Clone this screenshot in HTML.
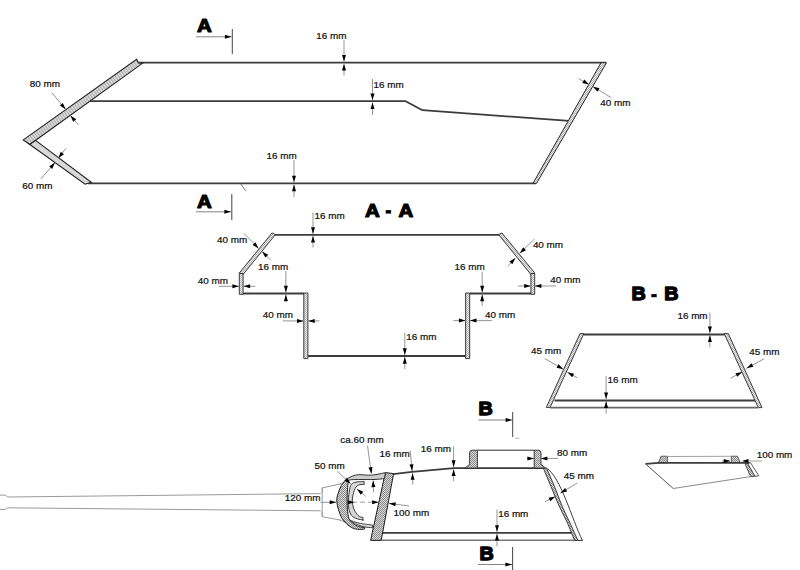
<!DOCTYPE html>
<html><head><meta charset="utf-8"><style>
html,body{margin:0;padding:0;background:#fff;}
svg{display:block;}
text{font-family:"Liberation Sans",sans-serif;fill:#111;stroke:#111;stroke-width:0.22px;}
text.b{font-weight:bold;fill:#000;stroke:#000;stroke-width:1.5px;stroke-linejoin:round;}
</style></head><body>
<svg width="800" height="570" viewBox="0 0 800 570">
<defs><pattern id="chk" width="2" height="2" patternUnits="userSpaceOnUse"><rect width="2" height="2" fill="#dadada"/><rect width="1" height="1" fill="#8a8a8a"/><rect x="1" y="1" width="1" height="1" fill="#8a8a8a"/></pattern><pattern id="chk2" width="2" height="2" patternUnits="userSpaceOnUse"><rect width="2" height="2" fill="#eeeeee"/><rect width="1" height="1" fill="#b0b0b0"/><rect x="1" y="1" width="1" height="1" fill="#b0b0b0"/></pattern><pattern id="str" width="2.6" height="4" patternUnits="userSpaceOnUse" patternTransform="rotate(-35.4)"><rect width="2.6" height="4" fill="#dcdcdc"/><rect width="1" height="4" fill="#a8a8a8"/></pattern></defs>
<rect width="800" height="570" fill="#fff"/>
<text class="b" transform="translate(197.07,31.97) scale(1.1,1)" x="0" y="0" font-size="18.6" style="stroke-width:1.15px">A</text>
<line x1="196" y1="36.8" x2="231.5" y2="36.8" stroke="#777" stroke-width="0.9" />
<polygon points="231.50,36.80 224.90,38.80 224.90,34.80" fill="#000"/>
<line x1="232.3" y1="29" x2="232.3" y2="54" stroke="#444" stroke-width="1" />
<text class="b" transform="translate(197.07,207.77) scale(1.1,1)" x="0" y="0" font-size="18.6" style="stroke-width:1.15px">A</text>
<line x1="196" y1="211.8" x2="231" y2="211.8" stroke="#777" stroke-width="0.9" />
<polygon points="231.00,211.80 224.40,213.80 224.40,209.80" fill="#000"/>
<line x1="231.8" y1="194" x2="231.8" y2="220" stroke="#444" stroke-width="1" />
<line x1="139" y1="62.7" x2="606" y2="62.7" stroke="#3c3c3c" stroke-width="1.8" />
<polyline points="89.6,101.2 405.6,101.2 422.5,110.2 569,120.8" stroke="#3c3c3c" stroke-width="1.8" fill="none" stroke-linejoin="round" />
<line x1="88" y1="183.4" x2="536" y2="183.4" stroke="#3c3c3c" stroke-width="1.8" />
<line x1="240.4" y1="183.4" x2="245.6" y2="190.8" stroke="#555" stroke-width="0.8" />
<polygon points="23.3,139.9 136.6,59.3 138.5,62.9 142.8,63.1 29.8,144.5" fill="url(#str)" stroke="#1e1e1e" stroke-width="1.1" stroke-linejoin="miter" />
<polygon points="29.8,144.5 35.5,140.4 91.3,182.4 85.1,184.2" fill="#d8d8d8" stroke="#1e1e1e" stroke-width="1.1" stroke-linejoin="miter" />
<polygon points="601,62.7 606.5,62.7 536.5,183.4 533,183.4" fill="url(#chk2)" stroke="#2a2a2a" stroke-width="1" stroke-linejoin="miter" />
<text x="29.68" y="86.81" font-size="9.9">80 mm</text>
<line x1="51.7" y1="92.6" x2="65.6" y2="109.3" stroke="#959595" stroke-width="1" />
<polygon points="65.60,109.30 59.84,105.51 62.91,102.95" fill="#000"/>
<line x1="78.3" y1="124.8" x2="70.4" y2="115.5" stroke="#959595" stroke-width="1" />
<polygon points="70.40,115.50 76.20,119.24 73.15,121.82" fill="#000"/>
<text x="22.32" y="188.93" font-size="9.9">60 mm</text>
<line x1="40.8" y1="179" x2="55" y2="162.6" stroke="#959595" stroke-width="1" />
<polygon points="55.00,162.60 52.19,168.90 49.17,166.28" fill="#000"/>
<line x1="66" y1="148.3" x2="58.3" y2="158.2" stroke="#959595" stroke-width="1" />
<polygon points="58.30,158.20 60.77,151.76 63.93,154.22" fill="#000"/>
<text x="316.20" y="38.68" font-size="9.9">16 mm</text>
<line x1="344" y1="40" x2="344" y2="61.6" stroke="#959595" stroke-width="1" />
<polygon points="344.00,61.60 342.00,55.00 346.00,55.00" fill="#000"/>
<line x1="344" y1="75.5" x2="344" y2="63.9" stroke="#959595" stroke-width="1" />
<polygon points="344.00,63.90 346.00,70.50 342.00,70.50" fill="#000"/>
<text x="373.57" y="87.56" font-size="9.9">16 mm</text>
<line x1="372.5" y1="79" x2="372.5" y2="100.1" stroke="#959595" stroke-width="1" />
<polygon points="372.50,100.10 370.50,93.50 374.50,93.50" fill="#000"/>
<line x1="372.5" y1="115" x2="372.5" y2="102.4" stroke="#959595" stroke-width="1" />
<polygon points="372.50,102.40 374.50,109.00 370.50,109.00" fill="#000"/>
<text x="600.21" y="105.93" font-size="9.9">40 mm</text>
<line x1="578.5" y1="78.5" x2="589" y2="84.6" stroke="#959595" stroke-width="1" />
<polygon points="589.00,84.60 582.29,83.01 584.30,79.56" fill="#000"/>
<line x1="611.3" y1="97.6" x2="592.8" y2="86.6" stroke="#959595" stroke-width="1" />
<polygon points="592.80,86.60 599.50,88.25 597.45,91.69" fill="#000"/>
<text x="266.62" y="159.16" font-size="9.9">16 mm</text>
<line x1="294" y1="160" x2="294" y2="182.3" stroke="#959595" stroke-width="1" />
<polygon points="294.00,182.30 292.00,175.70 296.00,175.70" fill="#000"/>
<line x1="294" y1="197" x2="294" y2="184.6" stroke="#959595" stroke-width="1" />
<polygon points="294.00,184.60 296.00,191.20 292.00,191.20" fill="#000"/>
<text class="b" transform="translate(364.88,216.67) scale(1.1,1)" x="0" y="0" font-size="18.6" style="stroke-width:1.15px">A</text>
<rect x="385.7" y="210.1" width="5.4" height="3.5" fill="#000"/>
<text class="b" transform="translate(398.38,216.67) scale(1.1,1)" x="0" y="0" font-size="18.6" style="stroke-width:1.15px">A</text>
<line x1="274.5" y1="234.9" x2="500" y2="234.9" stroke="#3c3c3c" stroke-width="1.8" />
<polygon points="272.1,232.9 275.4,234.6 242.7,275 239.1,273.2" fill="url(#chk2)" stroke="#2a2a2a" stroke-width="0.9" stroke-linejoin="miter" />
<polygon points="501.9,232.9 498.6,234.6 531.3,275 534.9,273.2" fill="url(#chk2)" stroke="#2a2a2a" stroke-width="0.9" stroke-linejoin="miter" />
<polygon points="239.3,273.5 243.1,273.5 243.1,294.3 239.3,294.3" fill="url(#chk2)" stroke="#2a2a2a" stroke-width="0.9" stroke-linejoin="miter" />
<polygon points="534.7,273.5 530.9,273.5 530.9,294.3 534.7,294.3" fill="url(#chk2)" stroke="#2a2a2a" stroke-width="0.9" stroke-linejoin="miter" />
<line x1="243" y1="293.5" x2="304" y2="293.5" stroke="#3c3c3c" stroke-width="1.8" />
<line x1="470" y1="293.5" x2="531" y2="293.5" stroke="#3c3c3c" stroke-width="1.8" />
<polygon points="303.8,293 307.9,293 307.9,358.6 303.8,358.6" fill="url(#chk2)" stroke="#2a2a2a" stroke-width="0.9" stroke-linejoin="miter" />
<polygon points="465.6,293 469.7,293 469.7,358.6 465.6,358.6" fill="url(#chk2)" stroke="#2a2a2a" stroke-width="0.9" stroke-linejoin="miter" />
<line x1="308" y1="356" x2="465.5" y2="356" stroke="#3c3c3c" stroke-width="1.8" />
<text x="314.57" y="219.06" font-size="9.9">16 mm</text>
<line x1="313" y1="212.5" x2="313" y2="233.8" stroke="#959595" stroke-width="1" />
<polygon points="313.00,233.80 311.00,227.20 315.00,227.20" fill="#000"/>
<line x1="313" y1="247.5" x2="313" y2="236" stroke="#959595" stroke-width="1" />
<polygon points="313.00,236.00 315.00,242.60 311.00,242.60" fill="#000"/>
<text x="217.08" y="242.56" font-size="9.9">40 mm</text>
<line x1="243.9" y1="233.3" x2="258.6" y2="248.4" stroke="#959595" stroke-width="1" />
<polygon points="258.60,248.40 252.56,245.07 255.43,242.28" fill="#000"/>
<line x1="270.9" y1="260.3" x2="262.1" y2="251.5" stroke="#959595" stroke-width="1" />
<polygon points="262.10,251.50 268.18,254.75 265.35,257.58" fill="#000"/>
<text x="258.12" y="269.51" font-size="9.9">16 mm</text>
<line x1="285.9" y1="271" x2="285.9" y2="292.4" stroke="#959595" stroke-width="1" />
<polygon points="285.90,292.40 283.90,285.80 287.90,285.80" fill="#000"/>
<line x1="285.9" y1="300" x2="285.9" y2="294.6" stroke="#959595" stroke-width="1" />
<polygon points="285.90,294.60 287.90,301.20 283.90,301.20" fill="#000"/>
<text x="197.83" y="283.68" font-size="9.9">40 mm</text>
<line x1="218.7" y1="286.3" x2="239" y2="286.3" stroke="#959595" stroke-width="1" />
<polygon points="239.00,286.30 232.40,288.30 232.40,284.30" fill="#000"/>
<line x1="255.4" y1="286.3" x2="243.5" y2="286.3" stroke="#959595" stroke-width="1" />
<polygon points="243.50,286.30 250.10,284.30 250.10,288.30" fill="#000"/>
<text x="262.73" y="318.16" font-size="9.9">40 mm</text>
<line x1="282.6" y1="320.9" x2="303.6" y2="320.9" stroke="#959595" stroke-width="1" />
<polygon points="303.60,320.90 297.00,322.90 297.00,318.90" fill="#000"/>
<line x1="319.5" y1="320.9" x2="308.1" y2="320.9" stroke="#959595" stroke-width="1" />
<polygon points="308.10,320.90 314.70,318.90 314.70,322.90" fill="#000"/>
<text x="406.32" y="339.76" font-size="9.9">16 mm</text>
<line x1="404.8" y1="333" x2="404.8" y2="354.9" stroke="#959595" stroke-width="1" />
<polygon points="404.80,354.90 402.80,348.30 406.80,348.30" fill="#000"/>
<line x1="404.8" y1="369" x2="404.8" y2="357.1" stroke="#959595" stroke-width="1" />
<polygon points="404.80,357.10 406.80,363.70 402.80,363.70" fill="#000"/>
<text x="485.08" y="317.56" font-size="9.9">40 mm</text>
<line x1="453.5" y1="320.6" x2="465.5" y2="320.6" stroke="#959595" stroke-width="1" />
<polygon points="465.50,320.60 458.90,322.60 458.90,318.60" fill="#000"/>
<line x1="491.8" y1="320.6" x2="469.9" y2="320.6" stroke="#959595" stroke-width="1" />
<polygon points="469.90,320.60 476.50,318.60 476.50,322.60" fill="#000"/>
<text x="454.62" y="269.93" font-size="9.9">16 mm</text>
<line x1="482.2" y1="271.6" x2="482.2" y2="292.4" stroke="#959595" stroke-width="1" />
<polygon points="482.20,292.40 480.20,285.80 484.20,285.80" fill="#000"/>
<line x1="482.2" y1="306" x2="482.2" y2="294.6" stroke="#959595" stroke-width="1" />
<polygon points="482.20,294.60 484.20,301.20 480.20,301.20" fill="#000"/>
<text x="532.88" y="247.86" font-size="9.9">40 mm</text>
<line x1="534.5" y1="239" x2="519.8" y2="253.3" stroke="#959595" stroke-width="1" />
<polygon points="519.80,253.30 523.14,247.26 525.93,250.13" fill="#000"/>
<line x1="507.7" y1="266.2" x2="515.4" y2="258" stroke="#959595" stroke-width="1" />
<polygon points="515.40,258.00 512.34,264.18 509.42,261.44" fill="#000"/>
<text x="550.33" y="283.06" font-size="9.9">40 mm</text>
<line x1="517.8" y1="286" x2="530.8" y2="286" stroke="#959595" stroke-width="1" />
<polygon points="530.80,286.00 524.20,288.00 524.20,284.00" fill="#000"/>
<line x1="556" y1="286" x2="534.8" y2="286" stroke="#959595" stroke-width="1" />
<polygon points="534.80,286.00 541.40,284.00 541.40,288.00" fill="#000"/>
<text class="b" transform="translate(631.47,300.13) scale(1.07,1)" x="0" y="0" font-size="18.4" style="stroke-width:1.35px">B</text>
<rect x="651.3" y="294.1" width="5.4" height="3.1" fill="#000"/>
<text class="b" transform="translate(664.27,300.13) scale(1.07,1)" x="0" y="0" font-size="18.4" style="stroke-width:1.35px">B</text>
<line x1="583.5" y1="334.5" x2="724.5" y2="334.5" stroke="#3c3c3c" stroke-width="2" />
<polygon points="580,333.6 583.9,333.6 550.1,407.4 546.3,407.4" fill="url(#chk2)" stroke="#2a2a2a" stroke-width="0.9" stroke-linejoin="miter" />
<polygon points="724.2,333.6 728.3,333.6 762,407.6 758.3,407.6" fill="url(#chk2)" stroke="#2a2a2a" stroke-width="0.9" stroke-linejoin="miter" />
<line x1="554.5" y1="400.5" x2="755" y2="400.5" stroke="#3c3c3c" stroke-width="2" />
<line x1="550" y1="407.7" x2="758.5" y2="407.7" stroke="#666" stroke-width="1.7" />
<text x="677.42" y="319.06" font-size="9.9">16 mm</text>
<line x1="709.9" y1="312.6" x2="709.9" y2="333.1" stroke="#959595" stroke-width="1" />
<polygon points="709.90,333.10 707.90,326.50 711.90,326.50" fill="#000"/>
<line x1="709.9" y1="347.3" x2="709.9" y2="335.3" stroke="#959595" stroke-width="1" />
<polygon points="709.90,335.30 711.90,341.90 707.90,341.90" fill="#000"/>
<text x="531.08" y="354.41" font-size="9.9">45 mm</text>
<line x1="544.7" y1="358.5" x2="563.3" y2="369.2" stroke="#959595" stroke-width="1" />
<polygon points="563.30,369.20 556.58,367.64 558.58,364.18" fill="#000"/>
<line x1="577.3" y1="377.8" x2="567.4" y2="372.3" stroke="#959595" stroke-width="1" />
<polygon points="567.40,372.30 574.14,373.76 572.20,377.25" fill="#000"/>
<text x="607.57" y="383.21" font-size="9.9">16 mm</text>
<line x1="606.1" y1="376" x2="606.1" y2="399.1" stroke="#959595" stroke-width="1" />
<polygon points="606.10,399.10 604.10,392.50 608.10,392.50" fill="#000"/>
<line x1="606.1" y1="413.6" x2="606.1" y2="401.3" stroke="#959595" stroke-width="1" />
<polygon points="606.10,401.30 608.10,407.90 604.10,407.90" fill="#000"/>
<text x="749.18" y="354.61" font-size="9.9">45 mm</text>
<line x1="764.1" y1="358.9" x2="746.6" y2="368.2" stroke="#959595" stroke-width="1" />
<polygon points="746.60,368.20 751.49,363.34 753.37,366.87" fill="#000"/>
<line x1="730.5" y1="378.2" x2="742.2" y2="372" stroke="#959595" stroke-width="1" />
<polygon points="742.20,372.00 737.30,376.86 735.43,373.32" fill="#000"/>
<text class="b" transform="translate(478.48,414.63) scale(1.07,1)" x="0" y="0" font-size="18.4" style="stroke-width:1.35px">B</text>
<line x1="478.4" y1="420" x2="512.2" y2="420" stroke="#777" stroke-width="0.9" />
<polygon points="512.20,420.00 505.60,422.00 505.60,418.00" fill="#000"/>
<line x1="512.7" y1="412" x2="512.7" y2="437" stroke="#444" stroke-width="1" />
<line x1="515.5" y1="438.2" x2="519.5" y2="438.2" stroke="#777" stroke-width="0.6" />
<text class="b" transform="translate(479.48,559.63) scale(1.07,1)" x="0" y="0" font-size="18.4" style="stroke-width:1.35px">B</text>
<line x1="478" y1="564.5" x2="512" y2="564.5" stroke="#777" stroke-width="0.9" />
<polygon points="512.00,564.50 505.40,566.50 505.40,562.50" fill="#000"/>
<line x1="512.6" y1="547" x2="512.6" y2="570" stroke="#444" stroke-width="1" />
<polyline points="0,495.1 5.3,495.1 7.8,497 320.8,493.6" stroke="#9a9a9a" stroke-width="1" fill="none" stroke-linejoin="round" />
<polyline points="0,509.4 5.3,509.4 7.8,507.8 320.8,510.8" stroke="#9a9a9a" stroke-width="1" fill="none" stroke-linejoin="round" />
<polyline points="322.2,492.5 322.2,487.9 341,483.8" stroke="#9a9a9a" stroke-width="1" fill="none" stroke-linejoin="round" />
<polyline points="322.2,511.5 322.2,516.7 341,520.2" stroke="#9a9a9a" stroke-width="1" fill="none" stroke-linejoin="round" />
<line x1="322.2" y1="487.9" x2="322.2" y2="516.7" stroke="#9a9a9a" stroke-width="1" />
<line x1="339.5" y1="484" x2="347" y2="481.5" stroke="#9a9a9a" stroke-width="1" />
<line x1="339.5" y1="520" x2="350" y2="524" stroke="#9a9a9a" stroke-width="1" />
<line x1="380.5" y1="532.9" x2="574" y2="532.9" stroke="#3c3c3c" stroke-width="1.8" />
<line x1="381" y1="540.3" x2="582.6" y2="540.3" stroke="#777" stroke-width="1.6" />
<polyline points="393,474.2 412,471.8 454,468.1 543.5,468.1" stroke="#3c3c3c" stroke-width="1.8" fill="none" stroke-linejoin="round" />
<path d="M465,468.1 L469.6,464.4 L469.6,452.6 Q469.8,450.2 472.2,450.2 L477.4,450.2 L477.4,468.1 Z" fill="url(#chk)" stroke="#2a2a2a" stroke-width="0.9"/>
<path d="M534.2,450.2 L538.6,450.2 Q541,450.4 541,452.8 L541,464.4 L545.6,468.1 L534.2,468.1 Z" fill="url(#chk)" stroke="#2a2a2a" stroke-width="0.9"/>
<line x1="477.4" y1="450.2" x2="534.2" y2="450.2" stroke="#333" stroke-width="1" />
<path d="M546.6,468.2 C560.4,476.5 572.1,519.6 582.4,540.4 L577.9,540.4" fill="#fff" stroke="#2a2a2a" stroke-width="0.9"/>
<path d="M543.3,468.2 C544.58,471.25 548.38,480.25 551.00,486.50 C553.62,492.75 556.33,499.78 559.00,505.70 C561.67,511.62 564.40,516.22 567.00,522.00 C569.60,527.78 573.33,537.33 574.60,540.40 L577.9,540.4 L577.9,540.4 C576.50,537.33 572.17,527.78 569.50,522.00 C566.83,516.22 564.40,511.62 561.90,505.70 C559.40,499.78 557.05,492.75 554.50,486.50 C551.95,480.25 547.92,471.25 546.60,468.20 Z" fill="url(#chk)" stroke="#2a2a2a" stroke-width="0.9" stroke-linejoin="round"/>
<polygon points="385.3,472.6 393.6,473.6 381.2,540.4 370.6,540.4" fill="url(#chk)" stroke="#1e1e1e" stroke-width="1" stroke-linejoin="miter" />
<path d="M349.6,520 C351.17,520.52 355.20,522.27 359.00,523.10 C362.80,523.93 370.17,524.68 372.40,525.00 L372.8,527.8 C371.00,527.57 365.75,527.53 362.00,526.40 C358.25,525.27 352.25,521.90 350.30,521.00 Z" fill="#d2d2d2" stroke="#262626" stroke-width="0.8" stroke-linejoin="round"/>
<path d="M346.3,479.2 C347.32,478.68 350.35,476.87 352.40,476.10 C354.45,475.33 356.75,474.80 358.60,474.60 C360.45,474.40 361.87,474.80 363.50,474.90 C365.13,475.00 366.65,475.20 368.40,475.20 C370.15,475.20 372.07,475.13 374.00,474.90 C375.93,474.67 378.12,474.18 380.00,473.80 C381.88,473.42 384.42,472.80 385.30,472.60 L384.6,478.6 C382.83,478.75 378.33,479.35 374.00,479.50 C369.67,479.65 362.50,479.45 358.60,479.50 C354.70,479.55 352.25,479.62 350.60,479.80 C348.95,479.98 349.02,480.47 348.70,480.60 Z" fill="#cdcdcd" stroke="#1e1e1e" stroke-width="0.9" stroke-linejoin="round"/>
<path d="M346.3,479.2 C345.48,480.23 342.83,482.83 341.40,485.40 C339.97,487.97 338.47,492.00 337.70,494.60 C336.93,497.20 336.68,498.53 336.80,501.00 C336.92,503.47 337.62,506.65 338.40,509.40 C339.18,512.15 340.15,515.11 341.50,517.50 C342.85,519.89 344.62,521.98 346.50,523.75 C348.38,525.52 350.67,527.16 352.75,528.10 C354.83,529.04 357.02,529.23 359.00,529.40 C360.98,529.57 363.67,529.15 364.60,529.10 L364.6,527.6 L364,527.5 C362.96,527.29 359.62,526.98 357.75,526.25 C355.88,525.52 354.21,524.35 352.75,523.10 C351.29,521.85 349.89,521.03 349.00,518.75 C348.11,516.47 347.72,512.36 347.40,509.40 C347.08,506.44 347.13,503.47 347.10,501.00 C347.07,498.53 347.08,497.20 347.20,494.60 C347.32,492.00 347.55,487.77 347.80,485.40 C348.05,483.03 348.55,481.23 348.70,480.40 Z" fill="url(#chk)" stroke="#1e1e1e" stroke-width="1" stroke-linejoin="round"/>
<path d="M364.1,484.7 L364.1,481.4 L362.9,481.4 C362.38,481.45 361.23,481.53 359.80,481.70 C358.37,481.87 355.83,481.75 354.30,482.40 C352.77,483.05 351.52,483.57 350.60,485.60 C349.68,487.63 349.18,492.03 348.80,494.60 C348.42,497.17 348.28,498.53 348.30,501.00 C348.32,503.47 348.35,506.97 348.90,509.40 C349.45,511.83 350.23,514.03 351.60,515.60 C352.97,517.17 355.20,518.08 357.10,518.80 C359.00,519.52 362.02,519.72 363.00,519.90 L363,520.6 L363,517.4 L360.3,516.9 C359.77,516.48 358.23,515.87 357.10,514.40 C355.97,512.93 354.30,510.33 353.50,508.10 C352.70,505.87 352.37,503.25 352.30,501.00 C352.23,498.75 352.47,496.97 353.10,494.60 C353.73,492.23 354.78,488.50 356.10,486.80 C357.42,485.10 359.67,484.75 361.00,484.40 C362.33,484.05 363.58,484.65 364.10,484.70 Z" fill="#d6d6d6" stroke="#262626" stroke-width="0.9" stroke-linejoin="round"/>
<text x="340.26" y="443.38" font-size="9.9">ca.60 mm</text>
<line x1="367.5" y1="445.6" x2="371.4" y2="473.8" stroke="#959595" stroke-width="1" />
<polygon points="371.40,473.80 368.51,467.54 372.48,466.99" fill="#000"/>
<line x1="373.6" y1="492.4" x2="373.1" y2="480.6" stroke="#959595" stroke-width="1" />
<polygon points="373.10,480.60 375.38,487.11 371.38,487.28" fill="#000"/>
<text x="314.50" y="469.06" font-size="9.9">50 mm</text>
<line x1="337.3" y1="471.3" x2="350.6" y2="483.8" stroke="#959595" stroke-width="1" />
<polygon points="350.60,483.80 344.42,480.74 347.16,477.82" fill="#000"/>
<line x1="365.8" y1="496.5" x2="357" y2="488.9" stroke="#959595" stroke-width="1" />
<polygon points="357.00,488.90 363.30,491.70 360.69,494.73" fill="#000"/>
<text x="379.52" y="456.68" font-size="9.9">16 mm</text>
<line x1="410.2" y1="450.6" x2="412.1" y2="471" stroke="#959595" stroke-width="1" />
<polygon points="412.10,471.00 409.50,464.61 413.48,464.24" fill="#000"/>
<line x1="412.8" y1="484.6" x2="412.5" y2="473.2" stroke="#959595" stroke-width="1" />
<polygon points="412.50,473.20 414.67,479.75 410.67,479.85" fill="#000"/>
<text x="420.72" y="452.06" font-size="9.9">16 mm</text>
<line x1="453.6" y1="446.6" x2="453.6" y2="466.9" stroke="#959595" stroke-width="1" />
<polygon points="453.60,466.90 451.60,460.30 455.60,460.30" fill="#000"/>
<line x1="453.6" y1="481" x2="453.6" y2="469.3" stroke="#959595" stroke-width="1" />
<polygon points="453.60,469.30 455.60,475.90 451.60,475.90" fill="#000"/>
<text x="284.82" y="501.46" font-size="9.9">120 mm</text>
<line x1="320.5" y1="502.3" x2="336.3" y2="502.3" stroke="#959595" stroke-width="1" />
<polygon points="336.30,502.30 329.70,504.30 329.70,500.30" fill="#000"/>
<line x1="352" y1="502.2" x2="378" y2="502.2" stroke="#888" stroke-width="0.8" stroke-dasharray="5,3"/>
<polygon points="378.70,502.20 372.10,504.20 372.10,500.20" fill="#000"/>
<polygon points="354.50,502.20 347.90,504.20 347.90,500.20" fill="#000"/>
<line x1="409.2" y1="506" x2="389" y2="503.4" stroke="#959595" stroke-width="1" />
<polygon points="389.00,503.40 395.80,502.26 395.29,506.23" fill="#000"/>
<text x="393.57" y="515.51" font-size="9.9">100 mm</text>
<text x="498.17" y="517.11" font-size="9.9">16 mm</text>
<line x1="497" y1="509.6" x2="497" y2="531.8" stroke="#959595" stroke-width="1" />
<polygon points="497.00,531.80 495.00,525.20 499.00,525.20" fill="#000"/>
<line x1="497" y1="546.4" x2="497" y2="534" stroke="#959595" stroke-width="1" />
<polygon points="497.00,534.00 499.00,540.60 495.00,540.60" fill="#000"/>
<text x="556.98" y="456.06" font-size="9.9">80 mm</text>
<line x1="526.8" y1="458.4" x2="534" y2="458.4" stroke="#959595" stroke-width="1" />
<polygon points="534.00,458.40 527.40,460.40 527.40,456.40" fill="#000"/>
<line x1="558" y1="458.4" x2="540.8" y2="458.4" stroke="#959595" stroke-width="1" />
<polygon points="540.80,458.40 547.40,456.40 547.40,460.40" fill="#000"/>
<text x="563.71" y="479.06" font-size="9.9">45 mm</text>
<line x1="577.4" y1="483.1" x2="560.4" y2="493" stroke="#959595" stroke-width="1" />
<polygon points="560.40,493.00 565.10,487.95 567.11,491.41" fill="#000"/>
<line x1="545" y1="501.6" x2="555.4" y2="496.6" stroke="#959595" stroke-width="1" />
<polygon points="555.40,496.60 550.32,501.26 548.59,497.66" fill="#000"/>
<path d="M645.6,463.9 L673.2,488.5" fill="none" stroke="#555" stroke-width="1"/>
<path d="M673.2,488.5 L750.6,476.6" fill="none" stroke="#8a8a8a" stroke-width="1"/>
<polygon points="745,463.6 747.6,463.2 755,476.3 750.6,476.7" fill="url(#chk)" stroke="#333" stroke-width="0.8" stroke-linejoin="miter" />
<polygon points="747.6,463.2 750.6,462.8 758.8,475.8 755,476.3" fill="#fff" stroke="#333" stroke-width="0.8" stroke-linejoin="miter" />
<path d="M658.5,462.8 L661,456.2 L667.4,456.2 L667.4,462.8 Z" fill="url(#chk)" stroke="#444" stroke-width="0.8"/>
<path d="M731.3,462.6 L731.3,456.2 L737.5,456.2 L740.3,462.6 Z" fill="url(#chk)" stroke="#444" stroke-width="0.8"/>
<line x1="667.4" y1="456.5" x2="731.3" y2="456.3" stroke="#999" stroke-width="0.9" />
<polyline points="645.6,463.9 659.3,462.9 749.4,462.9" stroke="#3c3c3c" stroke-width="1.7" fill="none" stroke-linejoin="round" />
<text x="756.67" y="458.36" font-size="9.9">100 mm</text>
<line x1="722" y1="461.1" x2="730.3" y2="461.1" stroke="#959595" stroke-width="1" />
<polygon points="730.30,461.10 723.70,463.10 723.70,459.10" fill="#000"/>
<line x1="747" y1="461" x2="762" y2="461" stroke="#999" stroke-width="0.9" />
<polygon points="741.90,461.00 748.50,459.00 748.50,463.00" fill="#000"/>
</svg>
</body></html>
